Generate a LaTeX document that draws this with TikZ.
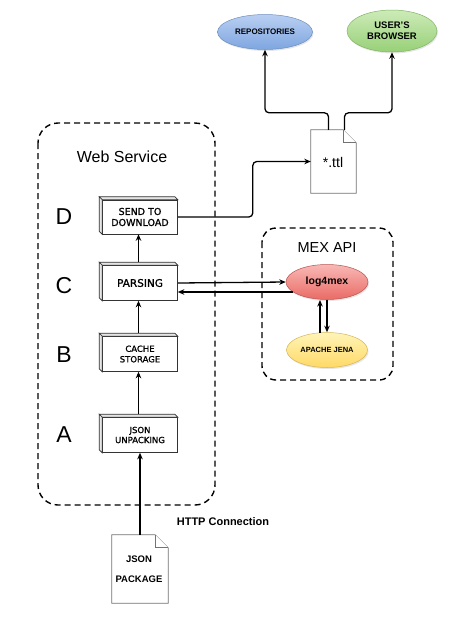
\documentclass[tikz,border=0pt]{standalone}
\usepackage{fontspec}
\setmainfont{Liberation Sans}
\newfontfamily\boxfont[FakeBold=1.2]{DejaVu Sans}
\usetikzlibrary{shapes.geometric,arrows.meta,calc,shadows}
\definecolor{repotop}{HTML}{B9CFF2}
\definecolor{repobot}{HTML}{7EA6E0}
\definecolor{repoln}{HTML}{6C8EBF}
\definecolor{brtop}{HTML}{CDEBB8}
\definecolor{brbot}{HTML}{97D077}
\definecolor{brln}{HTML}{82B366}
\definecolor{lgtop}{HTML}{F8B8B5}
\definecolor{lgbot}{HTML}{EA6B66}
\definecolor{lgln}{HTML}{B85450}
\definecolor{jtop}{HTML}{FFF4B8}
\definecolor{jbot}{HTML}{FFD966}
\definecolor{jln}{HTML}{D6B656}
\begin{document}
\begin{tikzpicture}[x=1pt,y=-1pt,
  arr/.style={-{Stealth[length=6.5pt,width=5.5pt]}, line width=1.3pt, rounded corners=4pt},
  dashbox/.style={draw, line width=1.4pt, dash pattern=on 6pt off 4pt},
  cubebox/.style={draw=black!80, line width=0.6pt, fill=white, minimum width=75pt, minimum height=34pt, inner sep=1pt, align=center},
  cubeside/.style={draw=black!80, line width=0.6pt, fill=black!10},
  ell/.style={ellipse, draw, line width=0.5pt, inner sep=0pt, align=center, font=\bfseries\fontsize{8}{10}\selectfont, drop shadow={opacity=0.2, shadow xshift=1pt, shadow yshift=-1.5pt}},
  doc/.style={draw=black!55, line width=0.7pt, fill=white},
  letter/.style={font=\fontsize{23}{23}\selectfont},
  ]
\useasboundingbox (0,0) rectangle (474,625);

% Web Service container
\draw[dashbox, rounded corners=20pt] (38,123) rectangle (215,505);
\node[font=\fontsize{16}{18}\selectfont] (ws) at (122,157) {Web Service};

% letters
\node[letter] (lD) at (64,217) {D};
\node[letter] (lC) at (64,286) {C};
\node[letter] (lB) at (64,355) {B};
\node[letter] (lA) at (64,435) {A};

% cube boxes
\node[cubebox, font=\boxfont\fontsize{9.5}{11}\selectfont] (send) at (140,217) {SEND TO\\DOWNLOAD};
\node[cubebox, minimum height=35pt, font=\boxfont\fontsize{10.5}{12}\selectfont] (pars) at (140,283) {PARSING};
\node[cubebox, minimum height=35pt, font=\boxfont\fontsize{8.5}{10.5}\selectfont] (cache) at (140,354) {CACHE\\STORAGE};
\node[cubebox, minimum height=35pt, font=\boxfont\fontsize{8.5}{10}\selectfont] (unp) at (140,435) {JSON\\UNPACKING};
\foreach \n in {send,pars,cache,unp}{
  \draw[cubeside] (\n.north west) -- ++(-3,-3) -- ($(\n.north east)+(-3,-3)$) -- (\n.north east) -- cycle;
  \draw[cubeside] (\n.north west) -- ++(-3,-3) -- ($(\n.south west)+(-3,-3)$) -- (\n.south west) -- cycle;
}

% vertical arrows
\draw[arr] ($(unp.north)+(-1.5,-3)$) -- ($(cache.south)+(-1.5,0)$);
\draw[arr] ($(cache.north)+(-1.5,-3)$) -- ($(pars.south)+(-1.5,0)$);
\draw[arr] ($(pars.north)+(-1.5,-3)$) -- ($(send.south)+(-1.5,0)$);

% ttl document
\node[minimum width=45pt, minimum height=63pt, inner sep=0pt] (ttl) at (333.5,161.5) {};
\draw[doc] (ttl.north west) -- ($(ttl.north east)+(-13,0)$) -- ($(ttl.north east)+(0,13)$) -- (ttl.south east) -- (ttl.south west) -- cycle;
\draw[doc] ($(ttl.north east)+(-13,0)$) -- ($(ttl.north east)+(-13,13)$) -- ($(ttl.north east)+(0,13)$);
\node[font=\fontsize{14}{16}\selectfont] (ttltxt) at (333,162) {*.ttl};

% top ellipses
\node[ell, minimum width=95pt, minimum height=35pt, top color=repotop, bottom color=repobot, draw=repoln] (repo) at (265,32) {REPOSITORIES};
\node[ell, minimum width=90pt, minimum height=42pt, top color=brtop, bottom color=brbot, draw=brln, font=\bfseries\fontsize{9.5}{11}\selectfont] (brow) at (392,31) {USER'S\\BROWSER};

\draw[arr] ($(ttl.north)+(-5,0)$) -- ++(0,-17) -| (repo.south);
\draw[arr] ($(ttl.north)+(11,0)$) -- ++(0,-17) -| (brow.south);
\draw[arr] (send.east) -- ++(75,0) |- (ttl.west);

% MEX API
\draw[dashbox, rounded corners=14pt] (262,228) rectangle (393,380);
\node[font=\fontsize{14.5}{16}\selectfont] (mex) at (327,248) {MEX API};
\node[ell, minimum width=82pt, minimum height=35pt, top color=lgtop, bottom color=lgbot, draw=lgln, font=\bfseries\fontsize{10.5}{12}\selectfont] (l4m) at (327,282) {log4mex};
\node[ell, minimum width=81pt, minimum height=35pt, top color=jtop, bottom color=jbot, draw=jln, font=\bfseries\fontsize{7.5}{9}\selectfont] (jena) at (327,350) {APACHE JENA};

\draw[arr] ($(jena.north)+(-7,0.3)$) -- ($(l4m.south)+(-7,0.3)$);
\draw[arr] (l4m.south) -- (jena.north);

\draw[arr] (pars.east) -- (l4m.west);
\coordinate (lb) at ($(l4m.center)+(-34,10)$);
\draw[arr] (lb) -- (lb -| pars.east);

% JSON package
\node[minimum width=56pt, minimum height=68pt, inner sep=0pt] (jp) at (140,569) {};
\draw[doc] (jp.north west) -- ($(jp.north east)+(-13,0)$) -- ($(jp.north east)+(0,13)$) -- (jp.south east) -- (jp.south west) -- cycle;
\draw[doc] ($(jp.north east)+(-13,0)$) -- ($(jp.north east)+(-13,13)$) -- ($(jp.north east)+(0,13)$);
\node[font=\bfseries\fontsize{9.5}{11}\selectfont] (jp1) at (139,559) {JSON};
\node[font=\bfseries\fontsize{9.5}{11}\selectfont] (jp2) at (139,579) {PACKAGE};
\draw[arr] (jp.north) -- (unp.south);

\node[font=\bfseries\fontsize{11}{13}\selectfont] (http) at (223,522) {HTTP Connection};
\end{tikzpicture}
\end{document}
